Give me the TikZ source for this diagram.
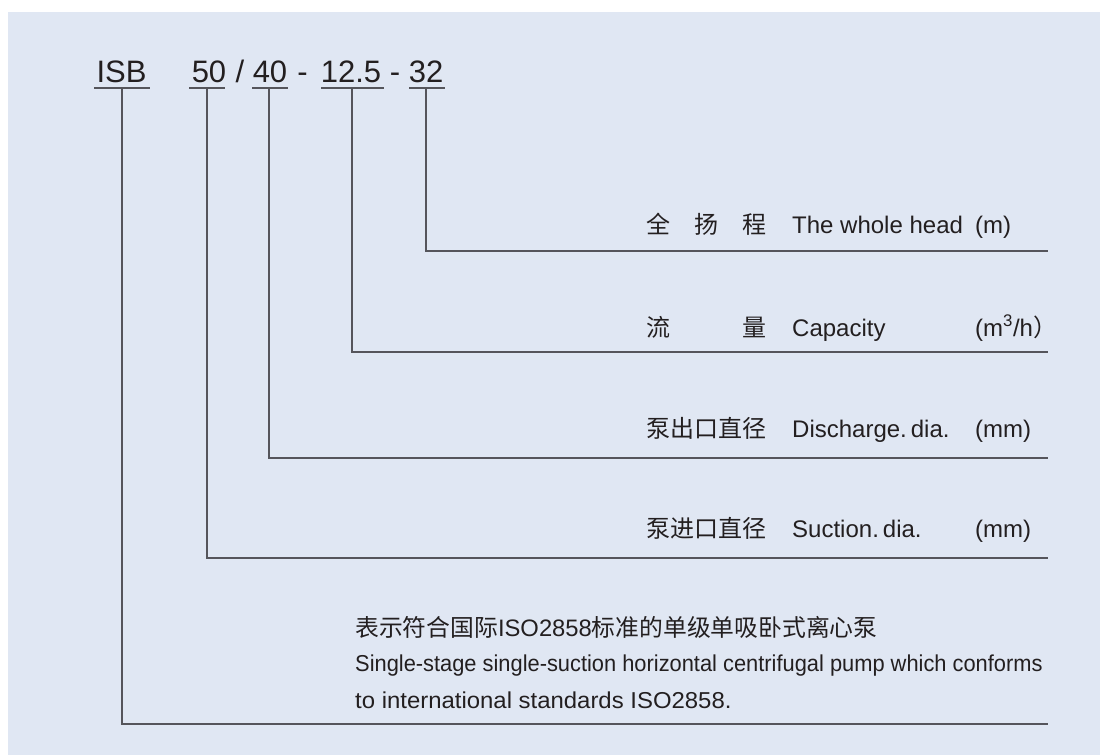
\documentclass[tikz,border=0pt]{standalone}
\usepackage{fontspec}
\usepackage{graphicx}
\setmainfont{Liberation Sans}
\newfontfamily\cjk{Noto Sans CJK SC}
\definecolor{panel}{HTML}{E0E7F3}
\definecolor{ink}{HTML}{231F20}
\definecolor{rule}{HTML}{55555B}
\begin{document}
\begin{tikzpicture}[x=1pt,y=-1pt,
  code/.style={anchor=base,inner sep=0pt,text=ink,font=\fontsize{31}{31}\selectfont},
  lab/.style={anchor=base west,inner sep=0pt,text=ink,font=\fontsize{24}{24}\selectfont},
  cn/.style={anchor=base west,inner sep=0pt,text=ink,font=\fontsize{24}{24}\selectfont\cjk},
  desc/.style={anchor=base west,inner sep=0pt,text=ink,font=\fontsize{23}{23}\selectfont},
  conn/.style={draw=rule,line width=1.3pt},
  uline/.style={draw=rule,line width=1.2pt}]
\useasboundingbox (0,0) rectangle (1100,755);
\fill[panel] (8,12) rectangle (1100,755);
% code labels
\node[code] (isb) at (121.5,82) {ISB};
\node[code] (n50) at (209,82) {50};
\node[code] (sl) at (240,82) {/};
\node[code] (n40) at (270,82) {40};
\node[code] (d1) at (302.5,82) {-};
\node[code] (n125) at (351,82) {12.5};
\node[code] (d2) at (395,82) {-};
\node[code] (n32) at (426,82) {32};
% underlines
\draw[uline] (94,88) -- (150,88);
\draw[uline] (189,88) -- (225,88);
\draw[uline] (252,88) -- (288,88);
\draw[uline] (321,88) -- (384,88);
\draw[uline] (409,88) -- (445,88);
% connector start / end points
\coordinate (cisb) at (122,88);
\coordinate (c50) at (207,88);
\coordinate (c40) at (269,88);
\coordinate (c125) at (352,88);
\coordinate (c32) at (426,88);
\coordinate (e32) at (1048,251);
\coordinate (e125) at (1048,352);
\coordinate (e40) at (1048,458);
\coordinate (e50) at (1048,558);
\coordinate (eisb) at (1048,724);
\draw[conn] (c32) |- (e32);
\draw[conn] (c125) |- (e125);
\draw[conn] (c40) |- (e40);
\draw[conn] (c50) |- (e50);
\draw[conn] (cisb) |- (eisb);
% row 1
\node[cn] (r1a) at (646,233) {全};
\node[cn] (r1b) at (694,233) {扬};
\node[cn] (r1c) at (742,233) {程};
\node[lab] (r1e) at (792,233) {The whole head};
\node[lab] (r1u) at (975,233) {(m)};
% row 2
\node[cn] (r2a) at (646,336) {流};
\node[cn] (r2b) at (742,336) {量};
\node[lab] (r2e) at (792,336) {Capacity};
\node[lab] (r2u) at (975,336) {(m\textsuperscript{3}/h{\cjk ）}};
% row 3
\node[cn] (r3c) at (646,437) {泵出口直径};
\node[lab] (r3e) at (792,437) {Discharge.\,dia.};
\node[lab] (r3u) at (975,437) {(mm)};
% row 4
\node[cn] (r4c) at (646,537) {泵进口直径};
\node[lab] (r4e) at (792,537) {Suction.\,dia.};
\node[lab] (r4u) at (975,537) {(mm)};
% description
\node[desc,font=\fontsize{23.8}{23.8}\selectfont] (dcn) at (355,636) {{\cjk 表示符合国际}ISO2858{\cjk 标准的单级单吸卧式离心泵}};
\node[desc] (den1) at (355,671) {\scalebox{0.95}[1]{Single-stage single-suction horizontal centrifugal pump which conforms}};
\node[desc] (den2) at (355,708) {\scalebox{1.04}[1]{to international standards ISO2858.}};
\end{tikzpicture}
\end{document}
